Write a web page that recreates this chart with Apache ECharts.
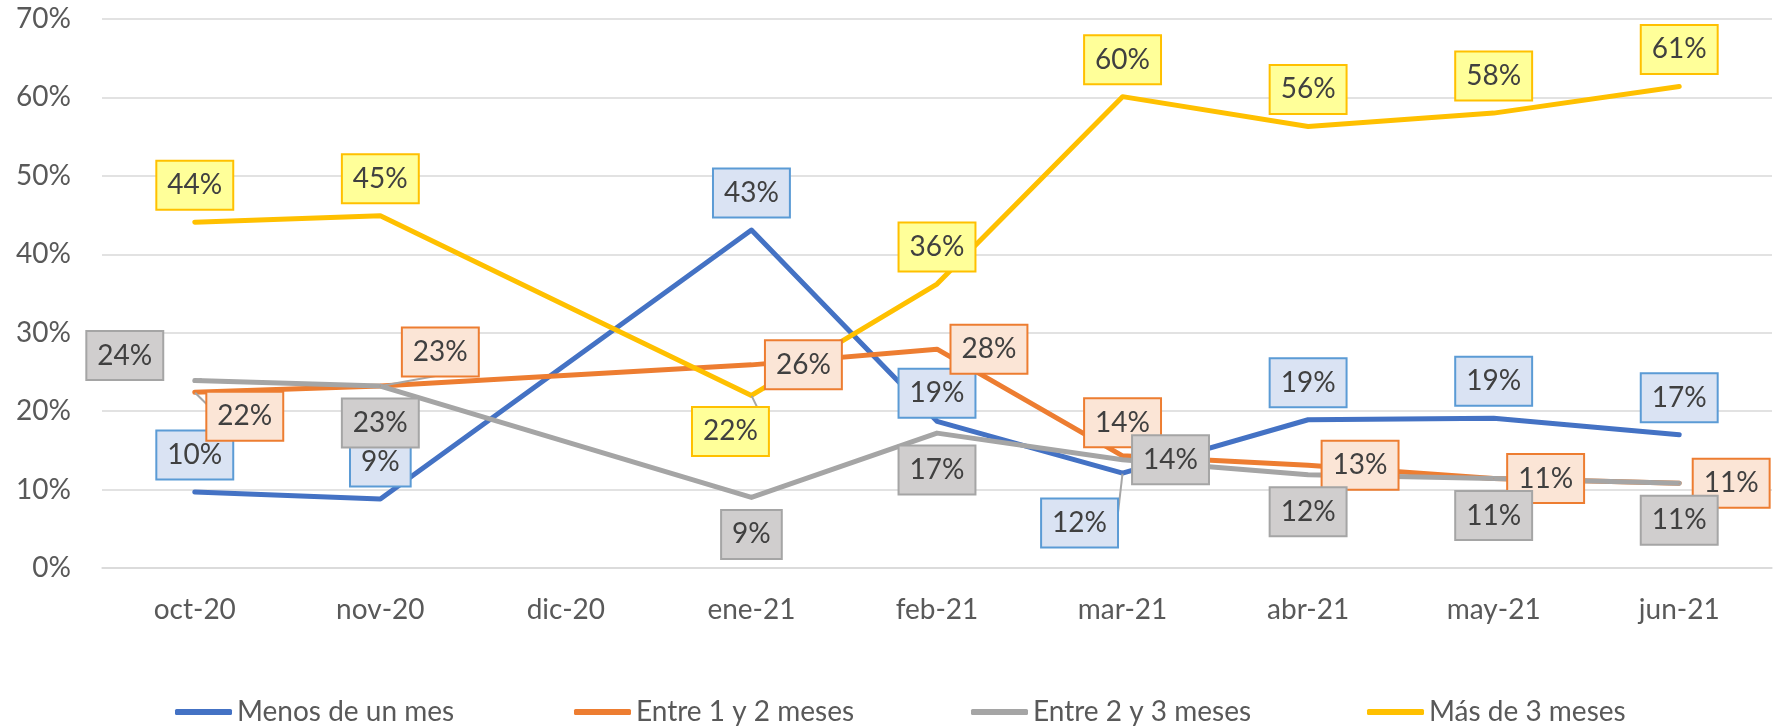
<!DOCTYPE html>
<html>
<head>
<meta charset="utf-8">
<script src="https://cdn.jsdelivr.net/npm/echarts@6/dist/echarts.min.js"></script>
<style>
  html, body { margin: 0; padding: 0; background: #fff; }
  #chart { width: 1778px; height: 728px; }
</style>
</head>
<body>
<div id="chart"></div>
<script>
// months on the x axis (dic-20 has no data)
const categories = ['oct-20', 'nov-20', 'dic-20', 'ene-21', 'feb-21', 'mar-21', 'abr-21', 'may-21', 'jun-21'];

const seriesNames = ['Menos de un mes', 'Entre 1 y 2 meses', 'Entre 2 y 3 meses', 'Más de 3 meses'];

const menosDeUnMes = [0.097, 0.088, null, 0.431, 0.187, 0.121, 0.189, 0.191, 0.170];
const entre1y2Meses = [0.224, 0.232, null, 0.259, 0.279, 0.143, 0.131, 0.114, 0.108];
const entre2y3Meses = [0.239, 0.232, null, 0.090, 0.172, 0.138, 0.119, 0.114, 0.108];
const masDe3Meses = [0.441, 0.449, null, 0.220, 0.362, 0.601, 0.563, 0.580, 0.614];

const yTicks = { min: 0, max: 0.7, interval: 0.1 };

// where each data label sits: side name, [side, distance] or {dx, dy} with a leader line
const placeMenos = ['top', 'top', null, 'top', ['top', 4], { dx: -43, dy: 50 }, 'top', 'top', 'top'];
const placeEntre12 = [{ dx: 50, dy: 24 }, { dx: 60, dy: -34 }, null, 'right', 'right', ['top', 9], 'right', 'right', 'right'];
const placeEntre23 = [{ dx: -70, dy: -25 }, 'bottom', null, 'bottom', 'bottom', ['right', 10], 'bottom', 'bottom', 'bottom'];
const placeMas3 = ['top', 'top', null, { dx: -21, dy: 36 }, 'top', 'top', 'top', 'top', 'top'];

const FONT = 'Lato, "Noto Sans", sans-serif';
const colors = ['#4472C4', '#ED7D31', '#A5A5A5', '#FFC000'];
const boxFill = ['#DAE3F3', '#FBE5D6', '#D0CECE', '#FFFF99'];
const boxBorder = ['#5B9BD5', '#ED7D31', '#A5A5A5', '#FFC000'];

function pointData(values, places) {
  return values.map((v, i) => {
    if (v == null) return null;
    const p = places[i];
    if (p && typeof p === 'object' && !Array.isArray(p)) {
      return {
        value: v,
        label: { position: 'inside', offset: [p.dx, p.dy] },
        labelLine: { show: true, lineStyle: { color: '#A6A6A6', width: 2 } }
      };
    }
    if (Array.isArray(p)) return { value: v, label: { position: p[0], distance: p[1] } };
    return { value: v, label: { position: p, distance: p === 'right' ? 14 : 13 } };
  });
}

function lineSeries(idx, values, places) {
  return {
    name: seriesNames[idx],
    type: 'line',
    symbol: 'circle',
    symbolSize: 1,
    connectNulls: true,
    color: colors[idx],
    lineStyle: { width: 5, color: colors[idx], cap: 'round', join: 'round' },
    label: {
      show: true,
      formatter: (p) => Math.round(p.value * 100) + '%',
      fontFamily: FONT,
      fontSize: 28,
      color: '#404040',
      lineHeight: 33,
      backgroundColor: boxFill[idx],
      borderColor: boxBorder[idx],
      borderWidth: 2,
      padding: [7, 10, 7, 10]
    },
    emphasis: { disabled: true },
    data: pointData(values, places)
  };
}

const legendLeft = [175, 574, 971, 1367];

const chart = echarts.init(document.getElementById('chart'));
chart.setOption({
  animation: false,
  backgroundColor: '#ffffff',
  grid: { left: 102, right: 6, top: 19, bottom: 160, containLabel: false },
  legend: seriesNames.map((n, i) => ({
    data: [n],
    left: legendLeft[i],
    top: 696,
    padding: 0,
    icon: 'roundRect',
    itemWidth: 57,
    itemHeight: 6,
    textStyle: { fontFamily: FONT, fontSize: 28, color: '#595959', lineHeight: 32 }
  })),
  xAxis: {
    type: 'category',
    data: categories,
    boundaryGap: true,
    axisTick: { show: false },
    axisLine: { show: true, lineStyle: { color: '#D9D9D9', width: 1.5 } },
    axisLabel: { fontFamily: FONT, fontSize: 28, color: '#595959', margin: 28, interval: 0 }
  },
  yAxis: {
    type: 'value',
    min: yTicks.min,
    max: yTicks.max,
    interval: yTicks.interval,
    axisLine: { show: false },
    axisTick: { show: false },
    splitLine: { lineStyle: { color: '#D9D9D9', width: 1.5 } },
    axisLabel: {
      fontFamily: FONT, fontSize: 28, color: '#595959', margin: 31,
      formatter: (v) => Math.round(v * 100) + '%'
    }
  },
  series: [
    lineSeries(0, menosDeUnMes, placeMenos),
    lineSeries(1, entre1y2Meses, placeEntre12),
    lineSeries(2, entre2y3Meses, placeEntre23),
    lineSeries(3, masDe3Meses, placeMas3)
  ]
});
</script>
</body>
</html>
